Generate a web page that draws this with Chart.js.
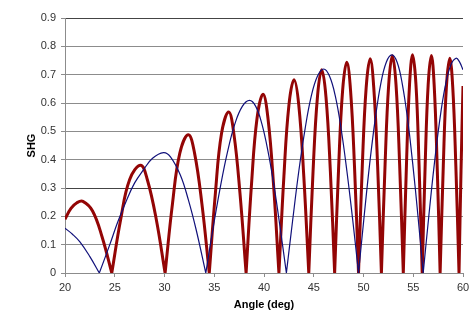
<!DOCTYPE html>
<html>
<head>
<meta charset="utf-8">
<title>SHG vs Angle</title>
<script src="https://cdn.jsdelivr.net/npm/chart.js@4/dist/chart.umd.min.js"></script>
<style>
    body { margin: 0; background: #fff; }
    canvas { display: block; }
</style>
</head>
<body>
<canvas id="shgChart" width="474" height="331"></canvas>
<script>
// ============================================================
// DATA
// ============================================================
const xMin = 20, xMax = 60, xStep = 5;
const yMin = 0, yMax = 0.9, yStep = 0.1;

// thick dark red curve
const redAngle = [20, 20.6, 21.2, 21.8, 22.77, 23.73, 24.7,
    25.6, 26.5, 27.6, 28.27, 29.17, 30.06,
    30.8, 31.54, 32.4, 33.02, 33.76, 34.5,
    35.12, 35.73, 36.45, 36.97, 37.58, 38.2,
    38.75, 39.3, 39.9, 40.4, 40.95, 41.5,
    42.0, 42.5, 43.02, 43.5, 44.0, 44.5,
    44.93, 45.37, 45.8, 46.23, 46.67, 47.1,
    47.5, 47.9, 48.32, 48.7, 49.1, 49.5,
    49.88, 50.27, 50.67, 51.03, 51.42, 51.8,
    52.17, 52.53, 52.9, 53.27, 53.63, 54.0,
    54.32, 54.63, 54.93, 55.27, 55.58, 55.9,
    56.2, 56.5, 56.82, 57.1, 57.4, 57.7,
    58.02, 58.33, 58.67, 58.97, 59.28, 59.6,
    59.8, 60];
const redShg = [0.19, 0.228, 0.248, 0.253, 0.219, 0.127, 0,
    0.19, 0.33, 0.38, 0.33, 0.19, 0,
    0.244, 0.423, 0.488, 0.423, 0.244, 0,
    0.284, 0.492, 0.568, 0.492, 0.284, 0,
    0.316, 0.546, 0.631, 0.546, 0.316, 0,
    0.341, 0.591, 0.682, 0.591, 0.341, 0,
    0.359, 0.621, 0.717, 0.621, 0.359, 0,
    0.372, 0.644, 0.744, 0.644, 0.372, 0,
    0.378, 0.655, 0.756, 0.655, 0.378, 0,
    0.384, 0.664, 0.767, 0.664, 0.384, 0,
    0.385, 0.667, 0.77, 0.667, 0.385, 0,
    0.384, 0.665, 0.768, 0.665, 0.384, 0,
    0.379, 0.656, 0.758, 0.656, 0.379, 0,
    0.36, 0.66];

// thin navy curve
const blueAngle = [20, 20.75, 21.5, 22.5, 23.45,
    24.5, 25.3, 26.2, 27.0, 27.9, 28.8, 29.9, 30.6, 31.6, 32.4, 33.2, 34.15,
    34.88, 35.62, 36.35, 37.08, 37.82, 38.55, 39.17, 39.78, 40.4, 41.02, 41.63, 42.25,
    42.88, 43.5, 44.13, 44.75, 45.38, 46.0, 46.58, 47.17, 47.75, 48.33, 48.92, 49.5,
    50.06, 50.62, 51.18, 51.73, 52.29, 52.85, 53.38, 53.9, 54.43, 54.95, 55.48, 56.0,
    56.55, 57.1, 57.65, 58.2, 58.75, 59.3, 59.65, 60];
const blueShg = [0.158, 0.137, 0.11, 0.058, 0,
    0.1, 0.18, 0.258, 0.318, 0.365, 0.405, 0.425, 0.41, 0.345, 0.258, 0.15, 0,
    0.158, 0.305, 0.43, 0.527, 0.588, 0.609, 0.588, 0.527, 0.43, 0.305, 0.158, 0,
    0.186, 0.36, 0.509, 0.624, 0.695, 0.72, 0.695, 0.624, 0.509, 0.36, 0.186, 0,
    0.199, 0.385, 0.544, 0.667, 0.744, 0.77, 0.744, 0.667, 0.544, 0.385, 0.199, 0,
    0.196, 0.379, 0.536, 0.657, 0.732, 0.758, 0.745, 0.717];

// ============================================================
// CHART
// ============================================================
// Zeros are pushed twice so the spline keeps a sharp cusp there
function toPoints(xs, ys) {
    const pts = [];
    xs.forEach((x, i) => {
        pts.push({ x: x, y: ys[i] });
        if (ys[i] === 0) pts.push({ x: x, y: ys[i] });
    });
    return pts;
}

const gridGray = '#8c8c8c';
const fontFamily = '"Liberation Sans", Arial, sans-serif';

new Chart(document.getElementById('shgChart'), {
    type: 'line',
    data: {
        datasets: [{
            data: toPoints(blueAngle, blueShg),
            borderColor: '#10107a',
            borderWidth: 1.2,
            pointRadius: 0,
            tension: 0.4,
            fill: false
        }, {
            data: toPoints(redAngle, redShg),
            borderColor: '#930505',
            borderWidth: 3,
            pointRadius: 0,
            tension: 0.4,
            fill: false
        }]
    },
    options: {
        responsive: false,
        animation: false,
        layout: { padding: { left: 0, right: 11, top: 18, bottom: 0 } },
        plugins: {
            legend: { display: false },
            tooltip: { enabled: false }
        },
        scales: {
            x: {
                type: 'linear',
                min: xMin,
                max: xMax,
                afterFit: scale => { scale.height = 58; },
                ticks: {
                    stepSize: xStep,
                    padding: 4,
                    color: '#333',
                    font: { family: fontFamily, size: 11 }
                },
                grid: { drawOnChartArea: false, tickLength: 4, color: gridGray },
                border: { color: gridGray },
                title: {
                    display: true,
                    text: 'Angle (deg)',
                    color: '#000',
                    padding: { top: 0, bottom: 19 },
                    font: { family: fontFamily, size: 11, weight: 'bold' }
                }
            },
            y: {
                min: yMin,
                max: yMax,
                afterFit: scale => { scale.width = 65; },
                ticks: {
                    stepSize: yStep,
                    padding: 5,
                    color: '#333',
                    font: { family: fontFamily, size: 11 },
                    callback: v => v === 0 ? '0' : v.toFixed(1)
                },
                grid: {
                    tickLength: 4,
                    tickColor: gridGray,
                    color: ctx => {
                        const v = ctx.tick ? ctx.tick.value : -1;
                        return (Math.abs(v - 0.9) < 1e-6 || Math.abs(v - 0.3) < 1e-6) ? '#444' : gridGray;
                    }
                },
                border: { color: gridGray },
                title: {
                    display: true,
                    text: 'SHG',
                    color: '#000',
                    padding: { top: 25, bottom: 0 },
                    font: { family: fontFamily, size: 11, weight: 'bold' }
                }
            }
        }
    }
});
</script>
</body>
</html>
